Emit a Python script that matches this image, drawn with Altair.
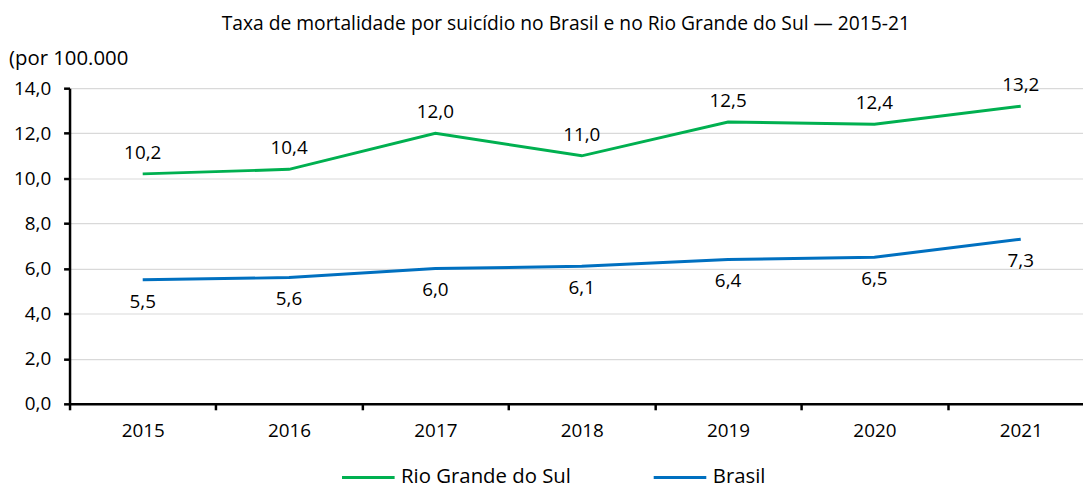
import altair as alt
import pandas as pd

years = ["2015", "2016", "2017", "2018", "2019", "2020", "2021"]
rs_values = [10.2, 10.4, 12.0, 11.0, 12.5, 12.4, 13.2]
br_values = [5.5, 5.6, 6.0, 6.1, 6.4, 6.5, 7.3]
series = ["Rio Grande do Sul", "Brasil"]
colors = ["#00B050", "#0070C0"]
title_text = "Taxa de mortalidade por suicídio no Brasil e no Rio Grande do Sul — 2015-21"
unit_text = "(por 100.000"

rows = []
for s, vals in zip(series, [rs_values, br_values]):
    for y, v in zip(years, vals):
        rows.append({"ano": y, "serie": s, "valor": v})
df = pd.DataFrame(rows)

FONT = "Open Sans"
TXT = "#000000"
FS = 19

x_enc = alt.X(
    "ano:O",
    sort=years,
    scale=alt.Scale(type="band", paddingInner=0, paddingOuter=0),
    axis=alt.Axis(
        title=None, labelAngle=0, tickBand="extent", domainColor="#000000",
        domainWidth=2.5, tickColor="#000000", tickWidth=2.5, tickSize=6,
        labelFont=FONT, labelFontSize=FS, labelColor=TXT, labelPadding=12,
        grid=False,
    ),
)
y_enc = alt.Y(
    "valor:Q",
    scale=alt.Scale(domain=[0, 14], nice=False),
    axis=alt.Axis(
        title=None, values=[0, 2, 4, 6, 8, 10, 12, 14],
        labelExpr="replace(format(datum.value, '.1f'), '.', ',')",
        domainColor="#000000", domainWidth=2.5, tickColor="#000000",
        tickWidth=2.5, tickSize=6, labelFont=FONT, labelFontSize=FS,
        labelColor=TXT, labelPadding=13, grid=True, gridColor="#D9D9D9",
        gridWidth=1.2,
    ),
)

base = alt.Chart(df)

lines = base.mark_line(strokeWidth=3).encode(
    x=x_enc,
    y=y_enc,
    color=alt.Color(
        "serie:N",
        scale=alt.Scale(domain=series, range=colors),
        legend=alt.Legend(
            title=None, orient="none", direction="horizontal",
            legendX=273, legendY=364, symbolType="stroke",
            symbolSize=2809, symbolStrokeWidth=3, labelFont=FONT,
            labelFontSize=20.5, labelColor=TXT, columnPadding=76,
            labelOffset=5, labelLimit=300,
        ),
    ),
)

labels_rs = base.transform_filter(alt.datum.serie == series[0]).transform_calculate(
    lbl="replace(format(datum.valor, '.1f'), '.', ',')"
).mark_text(font=FONT, fontSize=FS, color=TXT, dy=-21).encode(
    x=alt.X("ano:O", sort=years), y="valor:Q", text="lbl:N"
)

labels_br = base.transform_filter(alt.datum.serie == series[1]).transform_calculate(
    lbl="replace(format(datum.valor, '.1f'), '.', ',')"
).mark_text(font=FONT, fontSize=FS, color=TXT, dy=22).encode(
    x=alt.X("ano:O", sort=years), y="valor:Q", text="lbl:N"
)

unit = alt.Chart(pd.DataFrame({"t": [unit_text]})).mark_text(
    font=FONT, fontSize=20.5, color=TXT, align="left", baseline="middle"
).encode(x=alt.value(-61), y=alt.value(-29), text="t:N")

chart = alt.layer(lines, labels_rs, labels_br, unit).properties(
    width=1032,
    height=318,
    autosize="none",
    padding={"left": 62, "top": 79, "right": -11, "bottom": 83},
    title=alt.TitleParams(
        title_text, font=FONT, fontSize=19.4, fontWeight="normal", color=TXT,
        anchor="middle", frame="group", offset=15, dx=-16,
    ),
).configure_view(stroke=None)

chart.save("out.html", embed_options={"renderer": "svg", "actions": False})
